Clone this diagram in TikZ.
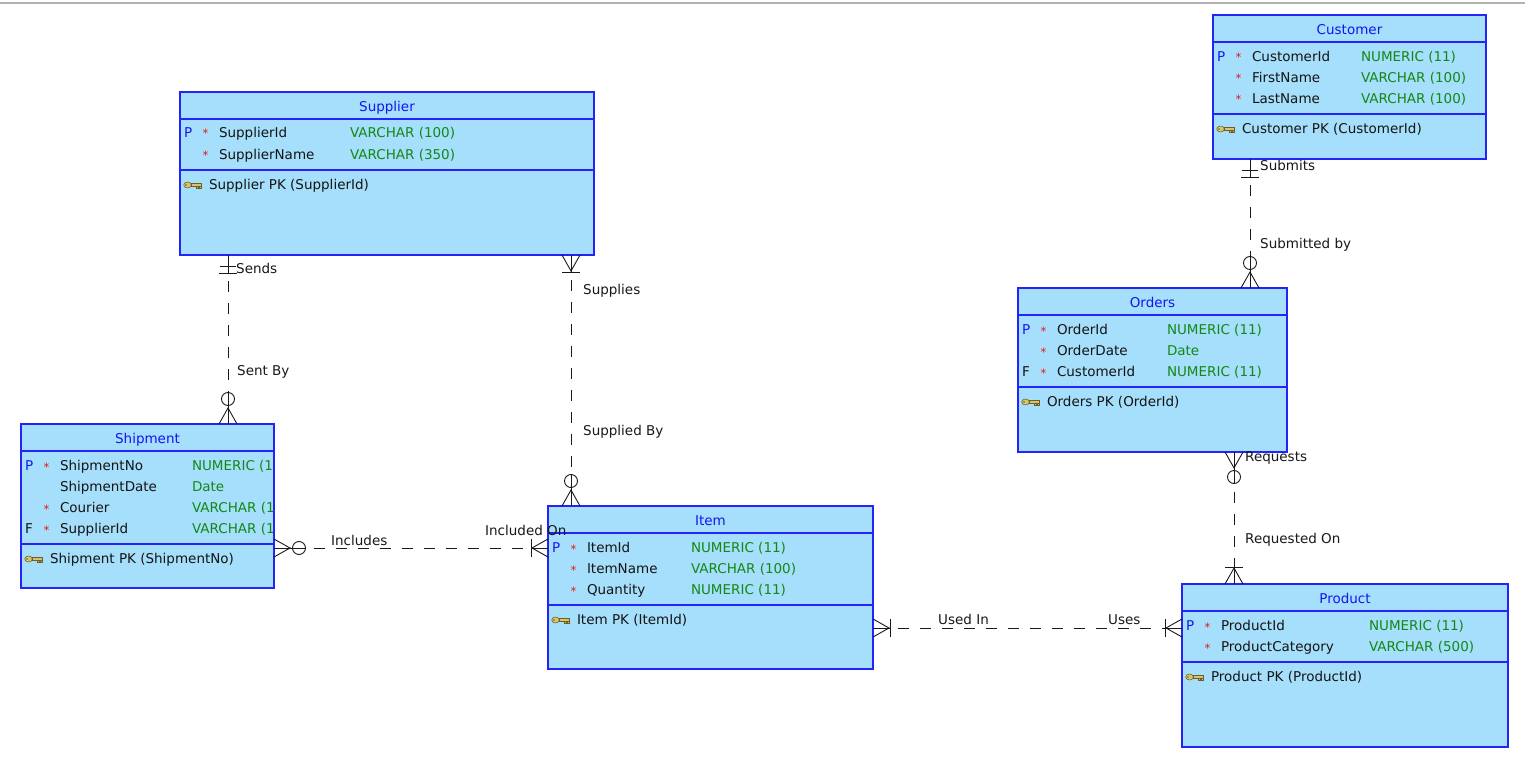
\documentclass[tikz,border=0pt]{standalone}
\usepackage{fontspec}
\setmainfont{DejaVu Sans}
\usetikzlibrary{calc}
\definecolor{boxfill}{RGB}{165,223,251}
\definecolor{boxline}{RGB}{35,35,250}
\definecolor{titleblue}{RGB}{20,20,245}
\definecolor{typegreen}{RGB}{20,135,20}
\definecolor{starred}{RGB}{235,20,20}
\definecolor{linec}{RGB}{25,25,25}
\definecolor{lblc}{RGB}{25,25,25}
\definecolor{keygold}{RGB}{214,196,110}
\definecolor{keydark}{RGB}{110,95,40}

\tikzset{
  entity/.style={draw=boxline, fill=boxfill, line width=1.5pt, rectangle, inner sep=0pt, outer sep=0pt},
  divider/.style={draw=boxline, line width=1.5pt},
  cell/.style={anchor=base west, inner sep=0pt, outer sep=0pt, font=\fontsize{13.5}{15}\selectfont, text=black!92},
  startext/.style={anchor=base west, inner sep=0pt, outer sep=0pt, font=\fontsize{11.5}{12}\selectfont, text=starred},
  titletext/.style={anchor=base, inner sep=0pt, font=\fontsize{13.5}{15}\selectfont, text=titleblue},
  lbl/.style={anchor=base west, inner sep=0pt, font=\fontsize{13.5}{15}\selectfont, text=lblc},
  rel/.style={draw=linec, line width=0.9pt, dash pattern=on 11pt off 11pt, dash phase=14pt},
  conn/.style={draw=linec, line width=0.9pt},
  crowbar/.pic={
    \draw[conn] (0pt,9pt) -- (16pt,0pt) -- (0pt,-9pt);
    \draw[conn] (0pt,0pt) -- (17pt,0pt);
    \draw[conn] (17pt,9pt) -- (17pt,-9pt);
  },
  crowcirc/.pic={
    \draw[conn] (0pt,9pt) -- (16pt,0pt) -- (0pt,-9pt);
    \draw[conn] (0pt,0pt) -- (31.5pt,0pt);
    \draw[conn] (25pt,0pt) circle (6.5pt);
  },
  onebar/.pic={
    \draw[conn] (0pt,0pt) -- (18pt,0pt);
    \draw[conn] (11pt,8pt) -- (11pt,-8pt);
    \draw[conn] (18pt,9pt) -- (18pt,-9pt);
  },
  keyicon/.pic={
    \filldraw[draw=keydark, fill=keygold, line width=0.5pt]
      (4pt,0pt) ellipse (3.8pt and 3pt);
    \filldraw[draw=keydark, fill=keygold, line width=0.5pt]
      (7.5pt,-1.3pt) -- (18pt,-1.3pt) -- (18pt,-3.5pt) -- (16pt,-3.5pt) -- (16pt,-2.2pt)
      -- (14.5pt,-2.2pt) -- (14.5pt,-3.5pt) -- (12.5pt,-3.5pt) -- (12.5pt,-1.3pt) -- cycle;
    \filldraw[draw=keydark, fill=keygold, line width=0.5pt]
      (7.5pt,-1.3pt) rectangle (18pt,1.5pt);
    \fill[keydark] (2.5pt,0pt) circle (0.9pt);
  },
}

\newcommand{\ertable}[8]{%
  \node[entity, minimum width=#4pt, minimum height=#5pt, anchor=north west] (#1) at (#2,#3) {};
  \draw[divider] ($(#1.north west)+(0,27)$) -- ($(#1.north east)+(0,27)$);
  \draw[divider] ($(#1.north west)+(0,#6)$) -- ($(#1.north east)+(0,#6)$);
  \node[titletext] (#1title) at ($(#1.north)+(0,19.5)$) {#7};
  \pic at ($(#1.north west)+(3.5,#6+15)$) {keyicon};
  \node[cell] (#1index) at ($(#1.north west)+(29,#6+19.5)$) {#8};
}
\newcommand{\errow}[8]{%
  \node[cell] (#1#2f) at ($(#1.north west)+(4,#3+4.5)$) {#4};
  \node[startext] (#1#2s) at ($(#1.north west)+(22.5,#3+5)$) {#5};
  \node[cell] (#1#2n) at ($(#1.north west)+(39,#3+4.5)$) {#6};
  \node[cell, text=typegreen] (#1#2t) at ($(#1.north west)+(#7,#3+4.5)$) {#8};
}
\newcommand{\pflag}{\textcolor{titleblue}{P}}

\begin{document}
\begin{tikzpicture}[x=1pt, y=-1pt]
\fill[white] (0,0) rectangle (1525,759);
\useasboundingbox (0,0) rectangle (1525,759);
\draw[gray!60, line width=1.5pt] (0,3) -- (1525,3);

% ---------------- tables
\ertable{sup}{180}{92}{414}{163}{78}{Supplier}{Supplier PK (SupplierId)}
\errow{sup}{a}{41}{\pflag}{*}{SupplierId}{170}{VARCHAR (100)}
\errow{sup}{b}{63}{}{*}{SupplierName}{170}{VARCHAR (350)}

\ertable{cus}{1213}{15}{273}{144}{99}{Customer}{Customer PK (CustomerId)}
\errow{cus}{a}{42}{\pflag}{*}{CustomerId}{148}{NUMERIC (11)}
\errow{cus}{b}{63}{}{*}{FirstName}{148}{VARCHAR (100)}
\errow{cus}{c}{84}{}{*}{LastName}{148}{VARCHAR (100)}

\ertable{ord}{1018}{288}{269}{164}{99}{Orders}{Orders PK (OrderId)}
\errow{ord}{a}{42}{\pflag}{*}{OrderId}{149}{NUMERIC (11)}
\errow{ord}{b}{63}{}{*}{OrderDate}{149}{Date}
\errow{ord}{c}{84}{F}{*}{CustomerId}{149}{NUMERIC (11)}

\ertable{shp}{21}{424}{253}{164}{120}{Shipment}{Shipment PK (ShipmentNo)}
\begin{scope}
\clip (22,425) rectangle (273.2,543);
\errow{shp}{a}{42}{\pflag}{*}{ShipmentNo}{171}{NUMERIC (11)}
\errow{shp}{b}{63}{}{}{ShipmentDate}{171}{Date}
\errow{shp}{c}{84}{}{*}{Courier}{171}{VARCHAR (100)}
\errow{shp}{d}{105}{F}{*}{SupplierId}{171}{VARCHAR (100)}
\end{scope}

\ertable{itm}{548}{506}{325}{163}{99}{Item}{Item PK (ItemId)}
\errow{itm}{a}{42}{\pflag}{*}{ItemId}{143}{NUMERIC (11)}
\errow{itm}{b}{63}{}{*}{ItemName}{143}{VARCHAR (100)}
\errow{itm}{c}{84}{}{*}{Quantity}{143}{NUMERIC (11)}

\ertable{prd}{1182}{584}{326}{163}{78}{Product}{Product PK (ProductId)}
\errow{prd}{a}{42}{\pflag}{*}{ProductId}{187}{NUMERIC (11)}
\errow{prd}{b}{63}{}{*}{ProductCategory}{187}{VARCHAR (500)}

% ---------------- connector ends
\coordinate (c1a) at ($(sup.south west)+(48,0)$);
\coordinate (c1b) at ($(shp.north west)+(207,0)$);
\coordinate (c2a) at ($(sup.south west)+(391,0)$);
\coordinate (c2b) at ($(itm.north west)+(23,0)$);
\coordinate (c3a) at ($(shp.north east)+(0,124)$);
\coordinate (c3b) at ($(itm.north west)+(0,42)$);
\coordinate (c4a) at ($(cus.south west)+(37,0)$);
\coordinate (c4b) at ($(ord.north west)+(232,0)$);
\coordinate (c5a) at ($(ord.south west)+(216,0)$);
\coordinate (c5b) at ($(prd.north west)+(52,0)$);
\coordinate (c6a) at ($(itm.north east)+(0,122)$);
\coordinate (c6b) at ($(prd.north west)+(0,44)$);

% ---------------- connectors
\draw[rel, shorten <=18pt, shorten >=31.5pt] (c1a) -- (c1b);
\pic[rotate=-90] at (c1a) {onebar};
\pic[rotate=90] at (c1b) {crowcirc};

\draw[rel, shorten <=17pt, shorten >=31.5pt] (c2a) -- (c2b);
\pic[rotate=-90] at (c2a) {crowbar};
\pic[rotate=90] at (c2b) {crowcirc};

\draw[rel, shorten <=31.5pt, shorten >=17pt] (c3a) -- (c3b);
\pic at (c3a) {crowcirc};
\pic[rotate=180] at (c3b) {crowbar};

\draw[rel, shorten <=18pt, shorten >=31.5pt] (c4a) -- (c4b);
\pic[rotate=-90] at (c4a) {onebar};
\pic[rotate=90] at (c4b) {crowcirc};

\draw[rel, shorten <=31.5pt, shorten >=17pt] (c5a) -- (c5b);
\pic[rotate=-90] at (c5a) {crowcirc};
\pic[rotate=90] at (c5b) {crowbar};

\draw[rel, shorten <=17pt, shorten >=17pt] (c6a) -- (c6b);
\pic at (c6a) {crowbar};
\pic[rotate=180] at (c6b) {crowbar};

% ---------------- labels
\node[lbl] (lsends) at (236,273.5) {Sends};
\node[lbl] (lsentby) at (237,375.5) {Sent By};
\node[lbl] (lsupplies) at (583,294.5) {Supplies};
\node[lbl] (lsuppliedby) at (583,435.5) {Supplied By};
\node[lbl] (lincludes) at (331,545.5) {Includes};
\node[lbl] (lincludedon) at (485,535.5) {Included On};
\node[lbl] (lsubmits) at (1260,170.5) {Submits};
\node[lbl] (lsubmittedby) at (1260,248.5) {Submitted by};
\node[lbl] (lrequests) at (1245,461.5) {Requests};
\node[lbl] (lrequestedon) at (1245,543.5) {Requested On};
\node[lbl] (lusedin) at (938,624.5) {Used In};
\node[lbl] (luses) at (1108,624.5) {Uses};
\end{tikzpicture}
\end{document}
